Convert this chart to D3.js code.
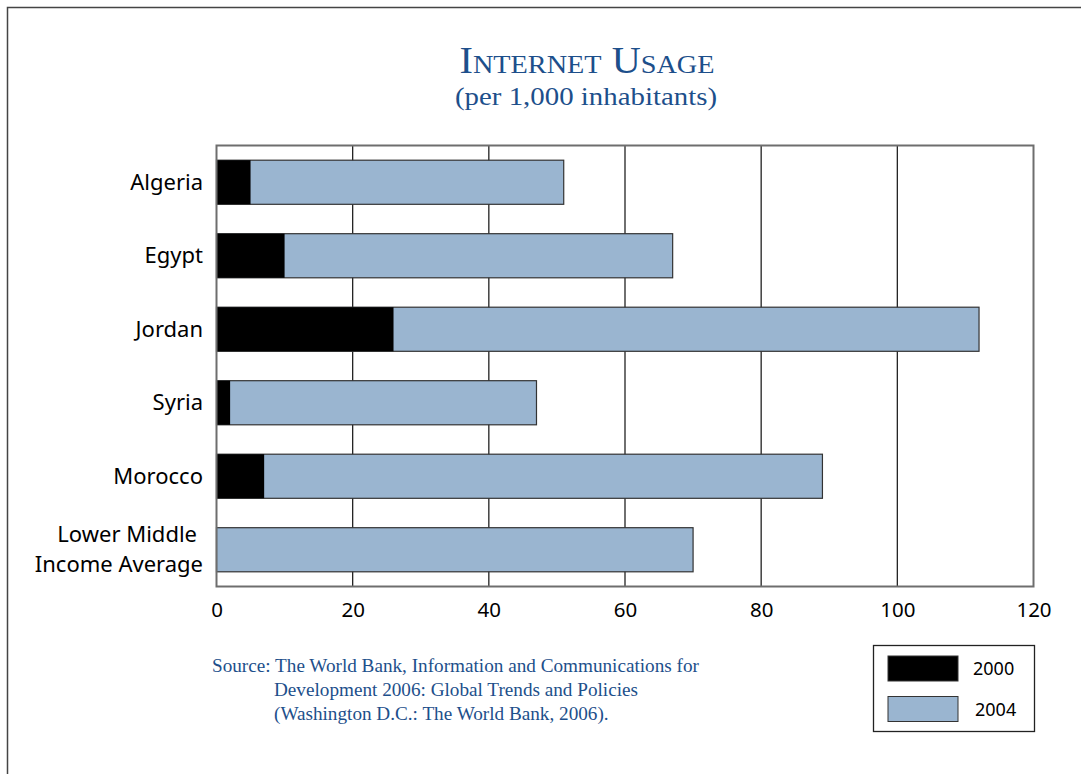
<!DOCTYPE html>
<html>
<head>
<meta charset="utf-8">
<script src="https://cdn.jsdelivr.net/npm/d3@7"></script>
<style>
  body { margin: 0; background: #fff; }
  svg { display: block; }
</style>
</head>
<body>
<script>
const categories = ["Algeria", "Egypt", "Jordan", "Syria", "Morocco", "Lower Middle\nIncome Average"];
const values2000 = [5, 10, 26, 2, 7, null];
const values2004 = [51, 67, 112, 47, 89, 70];
const xTicks = [0, 20, 40, 60, 80, 100, 120];
const seriesNames = ["2000", "2004"];
const sourceLines = [
  "Source: The World Bank, Information and Communications for",
  "Development 2006: Global Trends and Policies",
  "(Washington D.C.: The World Bank, 2006)."
];

const width = 1081, height = 774;
const blue = "#9ab5d0";
const titleBlue = "#1d4f8b";
const serif = "'Liberation Serif', 'DejaVu Serif', serif";
const sans = "'Noto Sans', sans-serif";
const margin = { top: 145.5, left: 216.5, right: 1033.5, bottom: 586.5 };

const svg = d3.select("body").append("svg")
  .attr("width", width)
  .attr("height", height);

// page frame (top and left edges)
svg.append("path")
  .attr("d", `M7.5,${height} V7.5 H${width}`)
  .attr("fill", "none")
  .attr("stroke", "#444")
  .attr("stroke-width", 1.5);

// title
svg.append("text")
  .attr("x", 587)
  .attr("y", 73)
  .attr("text-anchor", "middle")
  .attr("fill", titleBlue)
  .attr("textLength", 255)
  .attr("lengthAdjust", "spacingAndGlyphs")
  .style("font-family", serif)
  .style("font-size", "37px")
  .style("font-variant", "small-caps")
  .text("Internet Usage");

svg.append("text")
  .attr("x", 586)
  .attr("y", 105)
  .attr("text-anchor", "middle")
  .attr("fill", titleBlue)
  .attr("textLength", 262)
  .attr("lengthAdjust", "spacingAndGlyphs")
  .style("font-family", serif)
  .style("font-size", "26px")
  .text("(per 1,000 inhabitants)");

const x = d3.scaleLinear()
  .domain([0, 120])
  .range([margin.left, margin.right]);

const y = d3.scaleBand()
  .domain(categories)
  .range([margin.top, margin.bottom])
  .paddingInner(0.4)
  .paddingOuter(0.2);

// gridlines
svg.append("g")
  .selectAll("line")
  .data(xTicks.slice(1, -1))
  .join("line")
  .attr("x1", d => x(d)).attr("x2", d => x(d))
  .attr("y1", margin.top).attr("y2", margin.bottom)
  .attr("stroke", "#222")
  .attr("stroke-width", 1.3);

// 2004 bars
svg.append("g")
  .selectAll("rect")
  .data(categories.map((c, i) => ({ c, v: values2004[i] })))
  .join("rect")
  .attr("x", x(0))
  .attr("y", d => y(d.c))
  .attr("width", d => x(d.v) - x(0))
  .attr("height", y.bandwidth())
  .attr("fill", blue)
  .attr("stroke", "#333")
  .attr("stroke-width", 1.2);

// 2000 bars on top
svg.append("g")
  .selectAll("rect")
  .data(categories.map((c, i) => ({ c, v: values2000[i] })).filter(d => d.v != null))
  .join("rect")
  .attr("x", x(0))
  .attr("y", d => y(d.c))
  .attr("width", d => x(d.v) - x(0))
  .attr("height", y.bandwidth())
  .attr("fill", "#000");

// plot border
svg.append("rect")
  .attr("x", margin.left)
  .attr("y", margin.top)
  .attr("width", margin.right - margin.left)
  .attr("height", margin.bottom - margin.top)
  .attr("fill", "none")
  .attr("stroke", "#6e6e6e")
  .attr("stroke-width", 2);

// x axis labels
const xAxis = svg.append("g")
  .attr("transform", `translate(0,${margin.bottom})`)
  .call(d3.axisBottom(x).tickValues(xTicks).tickSize(0).tickPadding(16));
xAxis.select(".domain").remove();
xAxis.selectAll("text")
  .attr("fill", "#000")
  .style("font-family", sans)
  .style("font-size", "20.5px");

// category labels
const yLabels = svg.append("g")
  .selectAll("text")
  .data(categories)
  .join("text")
  .attr("x", 203)
  .attr("y", d => y(d) + y.bandwidth() / 2)
  .attr("text-anchor", "end")
  .attr("fill", "#000")
  .style("font-family", sans)
  .style("font-size", "22px");

yLabels.each(function (d) {
  const lines = d.split("\n");
  const t = d3.select(this);
  lines.forEach((line, i) => {
    t.append("tspan")
      .attr("x", i === 0 && lines.length > 1 ? 197 : 203)
      .attr("dy", i === 0 ? (0.35 - (lines.length - 1) * 0.68) + "em" : "1.36em")
      .text(line);
  });
});

// source note
svg.append("g")
  .selectAll("text")
  .data(sourceLines)
  .join("text")
  .attr("x", (d, i) => i === 0 ? 212 : 274)
  .attr("y", (d, i) => 672 + i * 24)
  .attr("fill", titleBlue)
  .style("font-family", serif)
  .style("font-size", "19.2px")
  .text(d => d);

// legend
const legend = svg.append("g");
legend.append("rect")
  .attr("x", 873.5).attr("y", 645.5)
  .attr("width", 161).attr("height", 86)
  .attr("fill", "#fff")
  .attr("stroke", "#222")
  .attr("stroke-width", 1.3);

const legendColors = ["#000", blue];
const legendItems = legend.selectAll("g.item")
  .data(seriesNames)
  .join("g")
  .attr("class", "item")
  .attr("transform", (d, i) => `translate(888,${656 + i * 40.5})`);

legendItems.append("rect")
  .attr("width", 70)
  .attr("height", 25)
  .attr("fill", (d, i) => legendColors[i])
  .attr("stroke", "#333")
  .attr("stroke-width", 1);

legendItems.append("text")
  .attr("x", (d, i) => 85 + i * 2)
  .attr("y", 19)
  .attr("fill", "#000")
  .style("font-family", sans)
  .style("font-size", "18px")
  .text(d => d);
</script>
</body>
</html>
